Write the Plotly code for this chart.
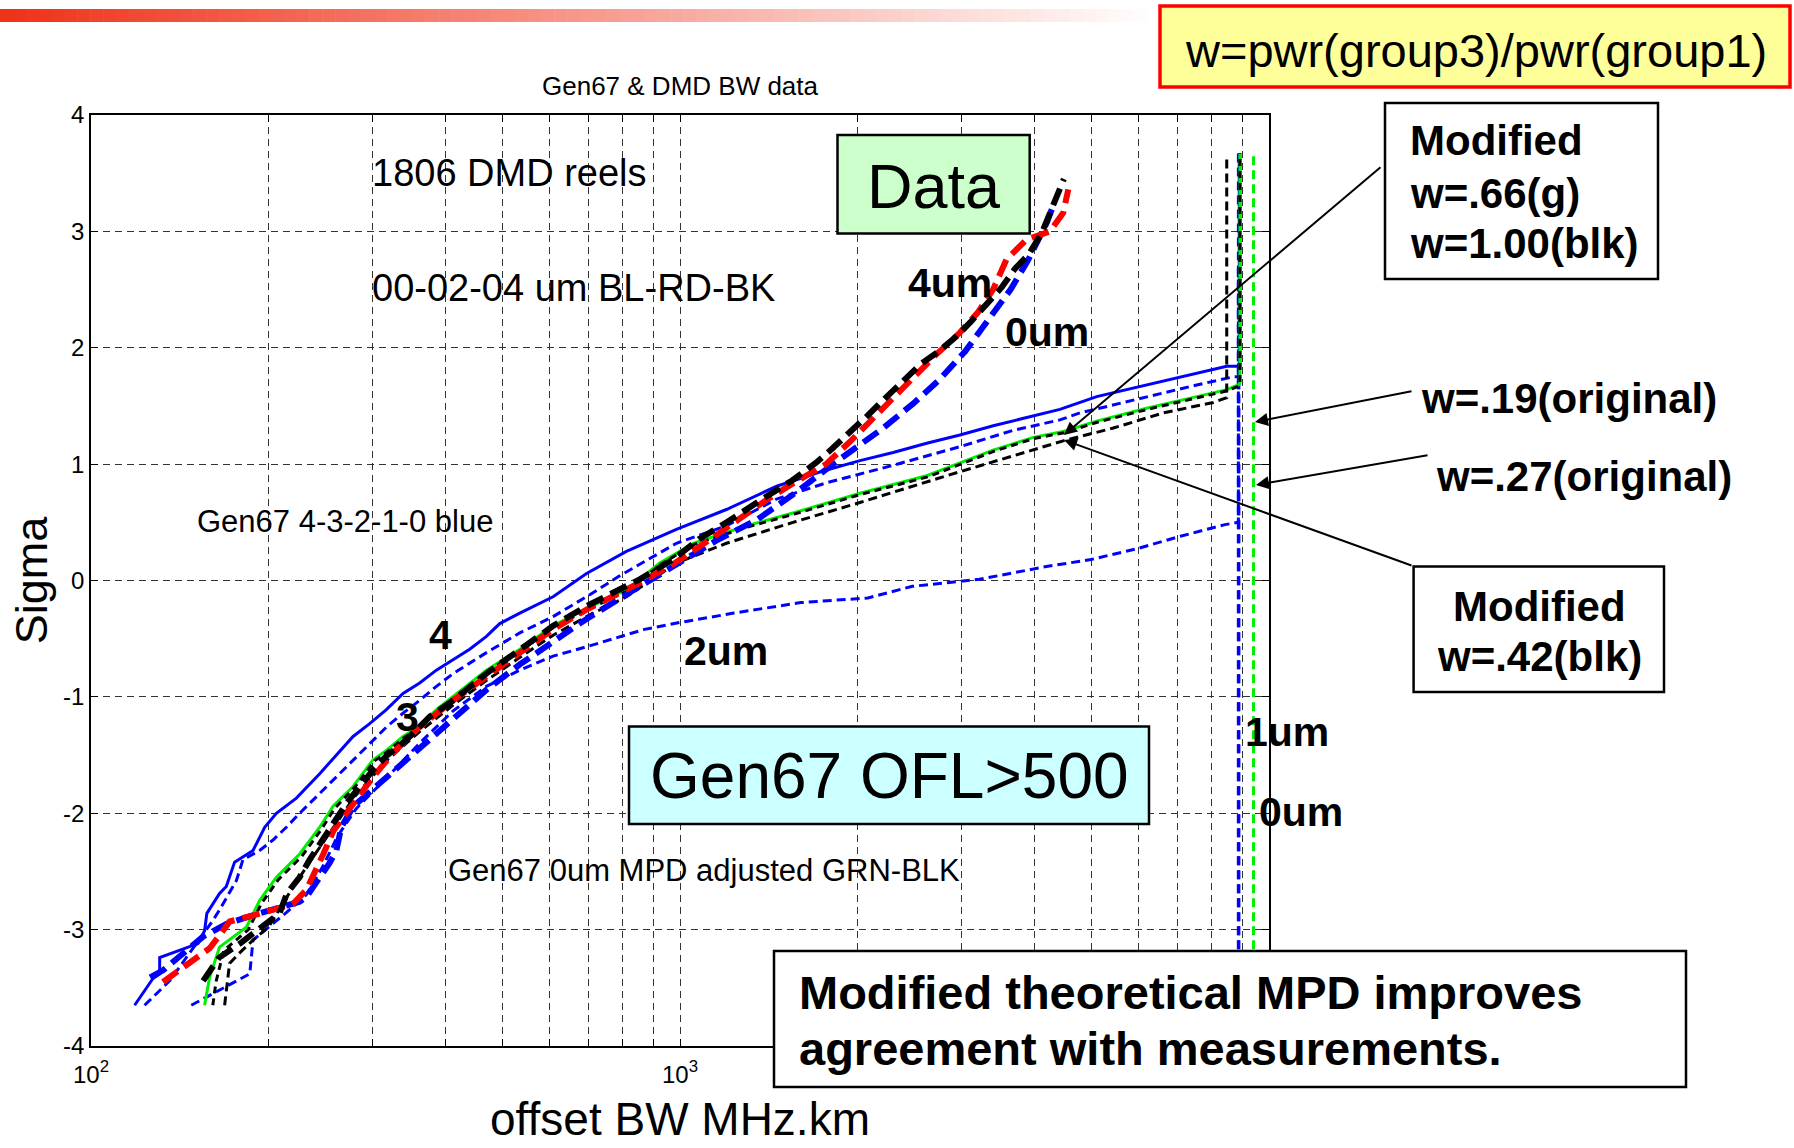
import plotly.graph_objects as go

# ---------------- data (BW in MHz.km, sigma) ----------------
x_tick_vals = [100, 200, 300, 400, 500, 600, 700, 800, 900,
               1000, 2000, 3000, 4000, 5000, 6000, 7000, 8000, 9000, 10000]
x_tick_text = ["10<sup>2</sup>", "", "", "", "", "", "", "", "",
               "10<sup>3</sup>", "", "", "", "", "", "", "", "", "10<sup>4</sup>"]
y_tick_vals = [-4, -3, -2, -1, 0, 1, 2, 3, 4]
y_tick_text = ["-4", "-3", "-2", "-1", "0", "1", "2", "3", "4"]

# measured DMD data: 0um blue, 2um red, 4um black
data0_bw = [126, 132.5, 155, 170, 193, 215, 226, 232, 245, 254, 261, 266, 279, 317, 386, 469, 535, 609, 694, 811,
            986, 1150, 1349, 1597, 1818, 1956, 2200, 2488, 2750, 3050, 3350, 3641, 3896, 4050, 4200, 4300]
data0_sig = [-3.41, -3.35, -3.06, -2.95, -2.86, -2.80, -2.76, -2.72, -2.55, -2.43, -2.32, -2.12, -1.94, -1.69, -1.31,
             -0.94, -0.72, -0.52, -0.33, -0.12, 0.14, 0.34, 0.52, 0.78, 1.00, 1.12, 1.30, 1.52, 1.72, 1.97,
             2.25, 2.50, 2.75, 2.92, 3.08, 3.22]
data2_bw = [132.5, 145, 159, 167.5, 172, 188, 206, 220, 232, 241, 248, 258, 271, 286, 301, 326, 361, 412, 469, 535,
            609, 694, 854, 980, 1100, 1250, 1400, 1550, 1770, 1950, 2150, 2345, 2550, 2707, 2987, 3200, 3400, 3584,
            3877, 4246, 4474, 4563]
data2_sig = [-3.45, -3.31, -3.16, -3.01, -2.93, -2.88, -2.82, -2.78, -2.66, -2.49, -2.35, -2.15, -2.00, -1.83, -1.69,
             -1.48, -1.26, -1.03, -0.82, -0.62, -0.42, -0.25, -0.02, 0.15, 0.32, 0.52, 0.69, 0.83, 1.00, 1.20,
             1.42, 1.61, 1.80, 1.93, 2.13, 2.30, 2.50, 2.76, 2.93, 3.00, 3.16, 3.36]
data4_bw = [155, 165, 179, 198, 209, 215, 226, 235, 245, 258, 271, 286, 301, 317, 343, 376, 412, 469, 535, 609,
            694, 854, 973, 1080, 1200, 1300, 1400, 1550, 1700, 1810, 1943, 2085, 2234, 2395, 2564, 2751, 2951, 3112,
            3281, 3518, 3704, 3906, 4117, 4330, 4485]
data4_sig = [-3.44, -3.24, -3.12, -2.96, -2.86, -2.69, -2.55, -2.40, -2.26, -2.09, -1.92, -1.77, -1.63, -1.51, -1.37,
             -1.17, -1.03, -0.80, -0.59, -0.39, -0.22, 0.01, 0.18, 0.36, 0.50, 0.62, 0.72, 0.86, 1.01, 1.13,
             1.27, 1.42, 1.57, 1.72, 1.86, 1.97, 2.10, 2.22, 2.35, 2.52, 2.68, 2.80, 2.99, 3.25, 3.45]

# Gen67 theoretical curves (blue): 4um solid, 3um / 2um / 1um / 0um dashed
g4_bw = [118.6, 127.4, 130.8, 130.8, 151.9, 155.9, 157.3, 165.3, 169.7, 175.3, 188.4, 197.2, 206.4, 223.2, 244.5,
         278.6, 297.3, 317.3, 338.7, 361.4, 385.8, 411.9, 439.5, 469.2, 494.3, 534.6, 608.8, 694, 811, 986,
         1199, 1459, 1774, 2021, 2301, 2623, 2987, 3403, 3877, 4416, 5098, 6198, 7538, 8477, 8926, 8926]
g4_sig = [-3.65, -3.42, -3.38, -3.24, -3.12, -3.01, -2.86, -2.69, -2.63, -2.42, -2.32, -2.12, -2.00, -1.87, -1.66,
          -1.34, -1.23, -1.11, -0.97, -0.88, -0.77, -0.68, -0.59, -0.48, -0.37, -0.28, -0.14, 0.06, 0.25, 0.44,
          0.61, 0.81, 0.95, 1.03, 1.10, 1.18, 1.25, 1.33, 1.40, 1.47, 1.58, 1.68, 1.78, 1.84, 1.84, 3.67]
g3_bw = [123.3, 136, 161.1, 165.3, 176.5, 181.1, 193.3, 203.7, 214.6, 226.1, 244.5, 278.6, 297.3, 317.3, 338.7,
         361.4, 385.8, 411.9, 439.5, 469.2, 534.6, 608.8, 693.6, 790, 986, 1199, 1459, 1774, 2301, 2987,
         3679, 4416, 4775, 6198, 7538, 8697, 8903, 8903]
g3_sig = [-3.65, -3.44, -2.92, -2.83, -2.58, -2.40, -2.32, -2.23, -2.12, -2.00, -1.83, -1.54, -1.40, -1.26, -1.14,
          -1.03, -0.91, -0.80, -0.71, -0.62, -0.45, -0.31, -0.14, 0.04, 0.32, 0.47, 0.70, 0.84, 0.99, 1.15,
          1.29, 1.38, 1.44, 1.58, 1.68, 1.75, 1.75, 3.67]
g2_bw = [148, 186, 188.4, 200, 215, 232, 248, 262, 282, 317, 361, 412, 469, 534.6, 608.8,
         693.6, 870, 1001, 1234, 1603, 2084, 2480, 3223, 4188, 4985, 5936, 7071, 8420, 8872, 8872]
g2_sig = [-3.65, -3.38, -3.09, -2.98, -2.85, -2.70, -2.45, -2.20, -1.96, -1.70, -1.40, -1.12, -0.91, -0.77, -0.65,
          -0.57, -0.42, -0.36, -0.28, -0.19, -0.15, -0.05, 0.01, 0.12, 0.18, 0.27, 0.38, 0.48, 0.50, 3.67]
g1_bw = [8870, 8870]
g1_sig = [-3.65, 2.71]
g0_bw = [8890, 8890]
g0_sig = [-3.65, 2.71]

# original theoretical MPD (w=.19 / w=.27), green
orig_bw = [9412, 9412]
orig_sig = [-3.65, 3.67]

# modified theoretical MPD: w=.66 green, w=1.00 black, w=.42 black
mod66_bw = [155.9, 159, 165.3, 183.5, 193.3, 206.4, 226.1, 244.5, 257.6, 278.6, 301.2, 317.3, 338.7, 361.4, 385.8,
            469.2, 534.6, 608.8, 700, 811, 924, 1053, 1297, 1556, 2021, 2623, 2987, 3400, 3979, 4474,
            5098, 6198, 7538, 8477, 8869, 8926, 8926]
mod66_sig = [-3.65, -3.41, -3.15, -2.98, -2.75, -2.55, -2.35, -2.12, -1.94, -1.77, -1.54, -1.46, -1.34, -1.25, -1.11,
             -0.77, -0.59, -0.39, -0.23, -0.08, 0.15, 0.32, 0.47, 0.58, 0.75, 0.90, 1.01, 1.12, 1.23, 1.28,
             1.37, 1.48, 1.58, 1.64, 1.68, 1.70, 3.67]
mod100_bw = [161, 163, 168, 185, 195, 208, 228, 246, 259, 280, 303, 319, 340, 363, 388,
             471, 537, 611, 703, 815, 928, 1057, 1302, 1562, 2028, 2632, 2997, 3410, 3990, 4486,
             5110, 6212, 7553, 8490, 8880, 8926, 8926]
mod100_sig = [-3.65, -3.45, -3.18, -3.00, -2.77, -2.57, -2.37, -2.14, -1.96, -1.78, -1.55, -1.47, -1.35, -1.26, -1.12,
              -0.78, -0.60, -0.40, -0.24, -0.09, 0.14, 0.31, 0.46, 0.57, 0.74, 0.89, 1.00, 1.11, 1.22, 1.27,
              1.36, 1.47, 1.57, 1.63, 1.67, 1.69, 3.67]
mod42_bw = [168.6, 171.9, 178.8, 188.4, 200, 215, 235, 258, 280, 317, 361, 412, 469, 535, 609,
            700, 811, 986, 1199, 1556, 2021, 2835, 3679, 4474, 5440, 6615, 8044, 8477, 8477]
mod42_sig = [-3.65, -3.29, -3.20, -3.09, -2.98, -2.72, -2.42, -2.12, -1.86, -1.55, -1.30, -1.07, -0.86, -0.66, -0.47,
             -0.30, -0.14, 0.15, 0.32, 0.50, 0.67, 0.90, 1.07, 1.20, 1.31, 1.44, 1.53, 1.57, 3.66]

# ---------------- layout helpers (pixel -> paper) ----------------
W, H = 1794, 1148
L, R, T, B = 91, 1269, 115, 1046
FONT = "Liberation Sans, Arial, sans-serif"


def px(x):
    return (x - L) / (R - L)


def py(y):
    return (B - y) / (B - T)


fig = go.Figure()

BLUE, RED, BLACK, GREEN = "#0000ff", "#ff0000", "#000000", "#00ee00"
THIN_DASH = "9px,5px"
THICK_DASH = "18px,8px"


def add_line(xs, ys, color, width, dash, name):
    fig.add_trace(go.Scatter(x=xs, y=ys, mode="lines", name=name,
                             line=dict(color=color, width=width, dash=dash),
                             hoverinfo="skip", showlegend=False))


add_line(orig_bw, orig_sig, GREEN, 3, THIN_DASH, "original w=.19/.27")
add_line(g1_bw, g1_sig, BLUE, 3, THIN_DASH, "Gen67 1um")
add_line(g0_bw, g0_sig, BLUE, 3, THIN_DASH, "Gen67 0um")
add_line(g2_bw, g2_sig, BLUE, 3, THIN_DASH, "Gen67 2um")
add_line(g3_bw, g3_sig, BLUE, 3, THIN_DASH, "Gen67 3um")
add_line(g4_bw, g4_sig, BLUE, 3, "solid", "Gen67 4um")
add_line(mod66_bw, mod66_sig, GREEN, 3, "solid", "modified w=.66")
add_line(mod100_bw, mod100_sig, BLACK, 3, "7px,5px", "modified w=1.00")
add_line(mod42_bw, mod42_sig, BLACK, 3, THIN_DASH, "modified w=.42")
add_line(data0_bw, data0_sig, BLUE, 6, THICK_DASH, "data 0um")
add_line(data2_bw, data2_sig, RED, 6, THICK_DASH, "data 2um")
add_line(data4_bw, data4_sig, BLACK, 6, THICK_DASH, "data 4um")


def rect(x0, y0, x1, y1, fill, line_color="black", lw=2.5):
    fig.add_shape(type="rect", xref="paper", yref="paper",
                  x0=px(x0), x1=px(x1), y0=py(y1), y1=py(y0),
                  fillcolor=fill, line=dict(color=line_color, width=lw), layer="above")


# top gradient bar (red fading to white)
N = 90
x_end = 1160
for i in range(N):
    t = i / (N - 1)
    r = int(240 + (255 - 240) * t)
    g = int(50 + (255 - 50) * t)
    b = int(25 + (255 - 25) * t)
    fig.add_shape(type="rect", xref="paper", yref="paper",
                  x0=px(i * x_end / N), x1=px((i + 1) * x_end / N + 0.5),
                  y0=py(22), y1=py(9), fillcolor=f"rgb({r},{g},{b})",
                  line=dict(width=0), layer="above")

rect(1160, 6, 1790, 87, "#ffff99", line_color="#ff0000", lw=3.5)
rect(837.5, 135, 1029.7, 233.4, "#ccffcc")
rect(629, 726.5, 1149, 824, "#ccffff")
rect(1385, 103, 1658, 279, "white")
rect(1413.6, 566.5, 1664, 692, "white")
rect(774, 951, 1686, 1087, "white")


def label(text, x, y, size, bold=False, xanchor="left", yanchor="middle"):
    fig.add_annotation(text=f"<b>{text}</b>" if bold else text,
                       x=px(x), y=py(y), xref="paper", yref="paper",
                       xanchor=xanchor, yanchor=yanchor, showarrow=False,
                       font=dict(size=size, color="black", family=FONT))


label("w=pwr(group3)/pwr(group1)", 1476, 50, 47, xanchor="center")
label("1806 DMD reels", 369.5, 173, 38)
label("00-02-04 um BL-RD-BK", 369.5, 288, 38)
label("Gen67 4-3-2-1-0 blue", 194.5, 521, 31)
label("Gen67 0um MPD adjusted GRN-BLK", 446, 870, 31)
label("Data", 934, 186, 63, xanchor="center")
label("Gen67 OFL&gt;500", 889, 776, 64, xanchor="center")
label("4um", 906, 283, 41, bold=True)
label("0um", 1003, 332, 41, bold=True)
label("4", 427, 635, 41, bold=True)
label("3", 394, 717, 41, bold=True)
label("2um", 682, 651, 41, bold=True)
label("1um", 1243, 732, 41, bold=True)
label("0um", 1257, 812, 41, bold=True)
label("Modified", 1408, 141, 42, bold=True)
label("w=.66(g)", 1408, 193, 42, bold=True)
label("w=1.00(blk)", 1408, 243, 42, bold=True)
label("w=.19(original)", 1419, 398, 42, bold=True)
label("w=.27(original)", 1434, 476, 42, bold=True)
label("Modified", 1539, 606, 42, bold=True, xanchor="center")
label("w=.42(blk)", 1539, 656, 42, bold=True, xanchor="center")
label("Modified theoretical MPD improves", 797, 992, 47, bold=True)
label("agreement with measurements.", 797, 1048, 47, bold=True)


def arrow(hx, hy, tx, ty):
    fig.add_annotation(text="", x=px(hx), y=py(hy), xref="paper", yref="paper",
                       ax=tx - hx, ay=ty - hy, axref="pixel", ayref="pixel",
                       showarrow=True, arrowhead=2, arrowsize=1.3, arrowwidth=2,
                       arrowcolor="black", standoff=0)


arrow(1064, 435, 1382, 166)
arrow(1064, 440, 1413, 566)
arrow(1255, 422, 1413, 391)
arrow(1256, 485, 1429, 455)

axis_common = dict(showgrid=True, gridcolor="#333333", griddash="7px,5px", gridwidth=1,
                   showline=True, linecolor="black", linewidth=1.5, mirror="ticks",
                   ticks="inside", ticklen=7, tickcolor="black", tickwidth=1,
                   zeroline=False, automargin=False)

fig.update_layout(
    template="none",
    width=W, height=H,
    margin=dict(l=L, r=W - R, t=T, b=H - B, pad=0),
    paper_bgcolor="white", plot_bgcolor="white",
    font=dict(family=FONT, color="black", size=24),
    showlegend=False,
    title=dict(text="Gen67 & DMD BW data", x=0.5, xref="paper", xanchor="center",
               y=1 - 86 / H, yref="container", yanchor="middle",
               font=dict(size=26, family=FONT, color="black")),
    xaxis=dict(type="log", range=[2, 4], tickvals=x_tick_vals, ticktext=x_tick_text,
               ticklabelstandoff=6,
               tickfont=dict(size=24, family=FONT, color="black"),
               title=dict(text="offset BW MHz.km", font=dict(size=46, family=FONT, color="black"),
                          standoff=16),
               **axis_common),
    yaxis=dict(range=[-4, 4], tickvals=y_tick_vals, ticktext=y_tick_text,
               tickfont=dict(size=24, family=FONT, color="black"),
               title=dict(text="Sigma", font=dict(size=45, family=FONT, color="black"),
                          standoff=1),
               **axis_common),
)

fig.write_html("out.html", config={"displayModeBar": False},
               post_script="document.body.style.margin='0px';document.body.style.overflow='hidden';")
